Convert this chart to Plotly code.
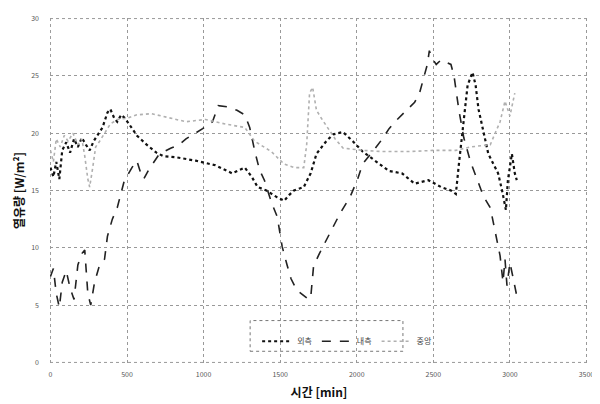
import plotly.graph_objects as go

# ---- data (time in minutes, heat flux W/m²) ----
names = ["외측", "내측", "중앙"]

t_outer = [0, 19, 38, 58, 77, 103, 128, 154, 179, 205, 231, 256, 282, 308, 340, 372, 391, 417, 436, 462,
           487, 513, 564, 628, 692, 737, 821, 949, 1077, 1186, 1237, 1269, 1314, 1353, 1410, 1481, 1526,
           1558, 1590, 1654, 1699, 1737, 1801, 1846, 1910, 1974, 2038, 2122, 2211, 2295, 2378, 2468, 2551,
           2615, 2647, 2667, 2692, 2724, 2756, 2776, 2795, 2827, 2859, 2904, 2923, 2949, 2968, 2974, 2987,
           3013, 3032, 3045]
v_outer = [17.0, 16.2, 17.5, 16.0, 18.5, 19.2, 18.3, 19.5, 18.8, 19.6, 19.0, 18.5, 19.3, 19.8, 20.5, 21.8,
           22.1, 21.3, 21.0, 21.6, 21.3, 20.8, 19.8, 19.0, 18.3, 18.0, 17.9, 17.6, 17.2, 16.5, 16.8, 17.0,
           16.2, 15.3, 15.0, 14.4, 14.1, 14.6, 15.0, 15.3, 16.5, 18.2, 19.3, 19.9, 20.1, 19.3, 18.4, 17.6,
           16.7, 16.5, 15.6, 15.9, 15.3, 15.0, 14.7, 17.3, 20.1, 24.2, 25.3, 24.2, 22.1, 20.1, 18.2, 17.0,
           16.5, 15.0, 13.9, 13.3, 15.9, 18.2, 16.5, 15.9]

t_inner = [0, 19, 38, 58, 77, 103, 128, 154, 179, 205, 224, 244, 263, 288, 321, 353, 372, 404, 436, 481,
           532, 564, 590, 609, 641, 712, 788, 840, 885, 949, 994, 1058, 1096, 1154, 1218, 1269, 1301, 1333,
           1365, 1397, 1442, 1481, 1513, 1545, 1571, 1609, 1654, 1686, 1699, 1718, 1756, 1801, 1846, 1891,
           1955, 2006, 2038, 2083, 2122, 2167, 2211, 2250, 2295, 2340, 2378, 2410, 2436, 2461, 2474, 2494,
           2519, 2551, 2583, 2615, 2635, 2667, 2699, 2743, 2788, 2827, 2872, 2904, 2936, 2955, 2968, 2981,
           3000, 3019, 3045]
v_inner = [7.5, 8.2, 6.0, 4.8, 7.0, 8.0, 6.5, 5.5, 8.5, 9.5, 9.8, 6.0, 5.0, 7.0, 8.5, 9.0, 11.0, 12.5,
           13.5, 15.8, 17.0, 17.6, 16.5, 16.0, 16.8, 18.2, 18.7, 19.0, 19.5, 20.0, 20.4, 21.0, 22.4, 22.3,
           22.0, 21.6, 20.5, 18.5, 16.8, 15.9, 14.0, 12.7, 10.1, 8.5, 7.3, 6.3, 5.8, 5.5, 5.6, 8.4, 9.5,
           10.7, 11.8, 13.0, 14.4, 16.0, 17.3, 18.0, 18.7, 19.5, 20.4, 21.0, 21.6, 22.2, 22.7, 23.5, 24.8,
           26.0, 27.2, 26.5, 26.0, 26.4, 26.2, 26.0, 25.0, 22.0, 19.6, 17.5, 15.9, 14.5, 13.5, 11.5, 9.3,
           7.0, 9.0, 6.7, 8.7, 7.5, 5.8]

t_center = [0, 19, 38, 64, 90, 115, 147, 179, 205, 224, 244, 256, 276, 295, 321, 353, 391, 436, 500, 564,
            660, 756, 885, 1013, 1141, 1269, 1333, 1442, 1526, 1590, 1654, 1673, 1692, 1712, 1737, 1769,
            1801, 1859, 1910, 2038, 2167, 2340, 2506, 2647, 2743, 2872, 2936, 2968, 3000, 3032]
v_center = [18.5, 17.5, 19.5, 18.8, 19.8, 19.3, 20.0, 19.0, 19.5, 18.0, 16.0, 15.3, 17.0, 18.8, 19.3, 20.0,
            20.8, 21.2, 21.3, 21.6, 21.7, 21.4, 21.0, 21.2, 20.8, 20.5, 19.3, 18.4, 17.3, 17.0, 17.0, 19.0,
            23.5, 24.0, 22.0, 21.3, 20.7, 19.5, 18.7, 18.5, 18.4, 18.4, 18.5, 18.5, 18.8, 19.0, 21.0, 22.8,
            21.5, 23.5]

x_ticks = [0, 500, 1000, 1500, 2000, 2500, 3000, 3500]
y_ticks = [0, 5, 10, 15, 20, 25, 30]

grid_style = dict(color="#999", width=1, dash="dot")

fig = go.Figure()
fig.add_trace(go.Scatter(x=t_outer, y=v_outer, name=names[0], mode="lines",
                         line=dict(color="#111111", width=2.2, dash="dot")))
fig.add_trace(go.Scatter(x=t_inner, y=v_inner, name=names[1], mode="lines",
                         line=dict(color="#222222", width=1.6, dash="dash")))
fig.add_trace(go.Scatter(x=t_center, y=v_center, name=names[2], mode="lines",
                         line=dict(color="#b0b0b0", width=1.6, dash="dot")))

fig.update_layout(
    width=600, height=404,
    margin=dict(l=42, r=20, t=5, b=49),
    paper_bgcolor="white", plot_bgcolor="white",
    font=dict(family="Noto Sans CJK KR, Noto Sans, sans-serif", color="#222"),
    showlegend=True,
    legend=dict(orientation="h", x=0.385, y=0.105, xanchor="left", yanchor="top",
                bgcolor="rgba(0,0,0,0)", font=dict(size=8, color="#444"),
                itemwidth=30, tracegroupgap=0),
    shapes=[
        dict(type="rect", xref="paper", yref="paper", x0=0.372, x1=0.656, y0=0.034, y1=0.123,
             line=dict(color="#777", width=1, dash="dot"), fillcolor="white", layer="below"),
        dict(type="line", xref="x", yref="paper", x0=0, x1=0, y0=0, y1=1, line=grid_style, layer="below"),
        dict(type="line", xref="paper", yref="y", x0=0, x1=1, y0=30, y1=30, line=grid_style, layer="below"),
        dict(type="line", xref="paper", yref="y", x0=0, x1=1, y0=0, y1=0, line=grid_style, layer="below"),
    ],
)
fig.update_xaxes(range=[-3, 3510], tickvals=x_ticks, ticktext=[str(v) for v in x_ticks],
                 showgrid=True, gridcolor="#999", griddash="dot", gridwidth=1,
                 zeroline=False, showline=False, ticks="",
                 tickfont=dict(size=7, color="#555"), ticklabelstandoff=6,
                 title=dict(text="<b>시간 [min]</b>", font=dict(size=12, color="#111"), standoff=10))
fig.update_yaxes(range=[-0.05, 30.05], tickvals=y_ticks, ticktext=[str(v) for v in y_ticks],
                 showgrid=True, gridcolor="#999", griddash="dot", gridwidth=1,
                 zeroline=False, showline=False, ticks="",
                 tickfont=dict(size=7, color="#555"), ticklabelstandoff=10,
                 title=dict(text="<b>열유량 [W/m²]</b>", font=dict(size=12, color="#111"), standoff=4))

fig.write_html("out.html")
